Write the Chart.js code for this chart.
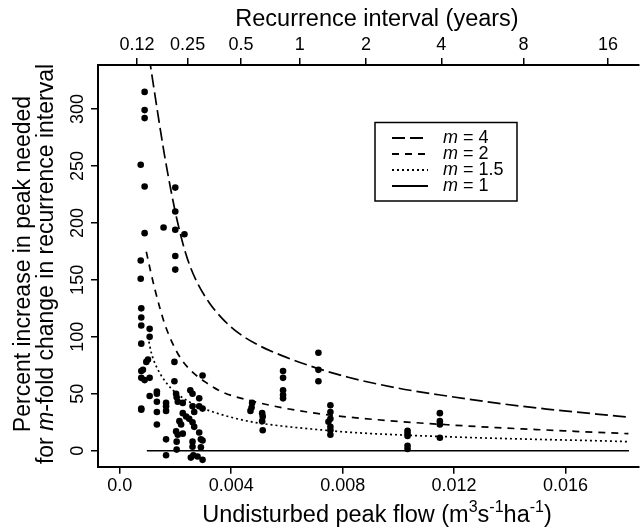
<!DOCTYPE html>
<html>
<head>
<meta charset="utf-8">
<script src="https://cdn.jsdelivr.net/npm/chart.js@4.4.1/dist/chart.umd.min.js"></script>
<style>
  html, body { margin: 0; padding: 0; background: #fff; }
  canvas { display: block; }
</style>
</head>
<body>
<canvas id="peakChart" width="643" height="532"></canvas>
<script>
// observed points: undisturbed peak flow (m3/s/ha) and percent increase
const obsFlow = [
    0.00089, 0.00089, 0.00089, 0.00075, 0.00089, 0.00199, 0.00199, 0.00157, 0.00199, 0.00232, 0.00089,
    0.00075, 0.00199, 0.00199, 0.00075, 0.00077, 0.00077, 0.00077, 0.00107, 0.00107, 0.00077,
    0.00101, 0.00095, 0.00083, 0.00077, 0.00089, 0.00107, 0.00077, 0.00196, 0.00297, 0.00196,
    0.00202, 0.00204, 0.00208, 0.00253, 0.00261, 0.00285, 0.00133, 0.00133, 0.00133, 0.00107,
    0.00077, 0.00077, 0.00133, 0.00133, 0.00166, 0.00166, 0.00166, 0.00226, 0.00226, 0.00238,
    0.00214, 0.00220, 0.00261, 0.00267, 0.00285, 0.00297, 0.00249, 0.00261, 0.00267, 0.00285,
    0.00202, 0.00208, 0.00226, 0.00475, 0.00473, 0.00469, 0.00511, 0.00513, 0.00511, 0.00513,
    0.00166, 0.00291, 0.00204, 0.00261, 0.00297, 0.00204, 0.00261, 0.00291, 0.00166, 0.00264,
    0.00279, 0.00255, 0.00297,
    0.00713, 0.00713, 0.00713, 0.00586, 0.00586, 0.00586, 0.00586, 0.00586,
    0.00756, 0.00756, 0.00756, 0.00749, 0.00756, 0.00756, 0.00756,
    0.01033, 0.01033, 0.01033, 0.01033, 0.01033, 0.01149, 0.01149, 0.01149, 0.01149
];
const obsPct = [
    315, 299, 292, 251, 232, 231, 210, 196, 194, 190, 191,
    167, 171, 159, 151, 125, 117, 110, 107, 100, 94,
    80, 78, 71, 64, 62, 64, 70, 78, 66, 61,
    50, 47, 43, 53, 50, 46, 52, 50, 43, 48,
    37, 36, 34, 23, 42, 39, 35, 42, 33, 30,
    26, 23, 39, 34, 39, 37, 28, 25, 21, 16,
    17, 14, 15, 42, 38, 35, 33, 30, 26, 18,
    10, 10, 8, 8, 9, 1, 3.5, 3, -4, -4,
    -5, -6, -8,
    86, 71, 61, 70, 64, 53, 49, 46,
    40, 34, 28, 25.5, 21, 18, 14,
    17.6, 15, 13, 4.4, 1.5, 33, 26, 23, 11.4
];

// curves
const m4Flow = [0.00105, 0.00137, 0.00160, 0.00184, 0.00205, 0.00238, 0.00273, 0.00321, 0.00368, 0.00428, 0.00499, 0.00582, 0.00701, 0.00820, 0.00998, 0.01176, 0.01354, 0.01532, 0.01711, 0.01826];
const m4Pct  = [346, 295, 260, 228, 203, 172, 150, 130, 116, 103, 92.5, 83.5, 73, 64.5, 55, 48, 41.8, 36.6, 32.2, 29.5];
const m2Flow = [0.00095, 0.00110, 0.00125, 0.00143, 0.00160, 0.00178, 0.00202, 0.00226, 0.00261, 0.00309, 0.00368, 0.00463, 0.00582, 0.00701, 0.00820, 0.00998, 0.01176, 0.01354, 0.01532, 0.01711, 0.01826];
const m2Pct  = [174.7, 158, 142.5, 126, 112, 100.5, 88, 78.5, 69, 60, 51.5, 44.3, 37.8, 33, 29.6, 25.8, 22.8, 20.3, 18.2, 16.2, 15];
const m15Flow = [0.00101, 0.00113, 0.00131, 0.00154, 0.00190, 0.00238, 0.00285, 0.00333, 0.00392, 0.00463, 0.00582, 0.00701, 0.00820, 0.00998, 0.01176, 0.01354, 0.01532, 0.01711, 0.01826];
const m15Pct  = [100.1, 86, 74, 64, 53.3, 44.5, 38.6, 34.2, 29.9, 25.8, 21.7, 18.8, 16.3, 14.0, 12.3, 10.9, 9.8, 8.8, 8.0];
const m1Flow = [0.00097, 0.01828];
const m1Pct  = [0, 0];

// axes
const xTicks = [0, 0.004, 0.008, 0.012, 0.016];
const xTickLabels = ['0.0', '0.004', '0.008', '0.012', '0.016'];
const yTicks = [0, 50, 100, 150, 200, 250, 300];
const topTickFlow = [0.000617, 0.002434, 0.004348, 0.006458, 0.008838, 0.011543, 0.01449, 0.01753];
const topTickLabels = ['0.12', '0.25', '0.5', '1', '2', '4', '8', '16'];

const legendLabels = ['4', '2', '1.5', '1'];

const FONT = '"Liberation Sans", Arial, Helvetica, sans-serif';
const TICK_SIZE = 18;
const TITLE_SIZE = 23.5;
const YTITLE_SIZE = 23;

function toPoints(xs, ys) {
    return xs.map((x, i) => ({ x: x, y: ys[i] }));
}

function axisStyle(extra) {
    return Object.assign({
        type: 'linear',
        grid: { display: true, drawOnChartArea: false, drawTicks: true, tickLength: 7, color: '#000', lineWidth: 1.5 },
        border: { display: true, color: '#000', width: 2 }
    }, extra);
}

function drawRuns(c, runs, cx, cy) {
    let total = 0;
    runs.forEach(r => {
        c.font = (r.italic ? 'italic ' : '') + r.size + 'px ' + FONT;
        r.w = c.measureText(r.t).width;
        total += r.w;
    });
    let x = cx - total / 2;
    c.textAlign = 'left';
    runs.forEach(r => {
        c.font = (r.italic ? 'italic ' : '') + r.size + 'px ' + FONT;
        c.fillText(r.t, x, cy - (r.raise || 0));
        x += r.w;
    });
}

const textPlugin = {
    id: 'figureText',
    afterDraw(chart) {
        const c = chart.ctx;
        c.save();
        c.fillStyle = '#000';
        c.textBaseline = 'middle';

        // top axis title
        drawRuns(c, [{ t: 'Recurrence interval (years)', size: TITLE_SIZE }], 377, 20);

        // bottom axis title
        const sup = 16;
        drawRuns(c, [
            { t: 'Undisturbed peak flow (m', size: TITLE_SIZE },
            { t: '3', size: sup, raise: 8 },
            { t: 's', size: TITLE_SIZE },
            { t: '-1', size: sup, raise: 8 },
            { t: 'ha', size: TITLE_SIZE },
            { t: '-1', size: sup, raise: 8 },
            { t: ')', size: TITLE_SIZE }
        ], 377, 516);

        // y title, two lines
        c.save();
        c.translate(24, 264);
        c.rotate(-Math.PI / 2);
        drawRuns(c, [{ t: 'Percent increase in peak needed', size: YTITLE_SIZE }], 0, 0);
        c.restore();
        c.save();
        c.translate(47, 264);
        c.rotate(-Math.PI / 2);
        drawRuns(c, [
            { t: 'for ', size: YTITLE_SIZE },
            { t: 'm', size: YTITLE_SIZE, italic: true },
            { t: '-fold change in recurrence interval', size: YTITLE_SIZE }
        ], 0, 0);
        c.restore();

        // legend box
        c.strokeStyle = '#000';
        c.lineWidth = 1.5;
        c.strokeRect(375, 122.5, 142, 78.5);
        const dashes = [[13, 5], [7, 6], [2, 3], []];
        legendLabels.forEach((lab, i) => {
            const y = 138 + i * 16;
            c.setLineDash(dashes[i]);
            c.lineWidth = 1.8;
            c.beginPath();
            c.moveTo(392, y);
            c.lineTo(428, y);
            c.stroke();
            c.setLineDash([]);
            c.font = 'italic 18px ' + FONT;
            c.textAlign = 'left';
            c.fillText('m', 443, y);
            const mw = c.measureText('m').width;
            c.font = '18px ' + FONT;
            c.fillText(' = ' + lab, 443 + mw, y);
        });
        c.restore();
    }
};

const curveStyle = {
    type: 'line',
    borderColor: '#000',
    borderWidth: 1.7,
    pointRadius: 0,
    fill: false,
    cubicInterpolationMode: 'monotone'
};

const tickFont = { family: FONT, size: TICK_SIZE };

const ctx = document.getElementById('peakChart');
new Chart(ctx, {
    type: 'scatter',
    data: {
        datasets: [
            Object.assign({}, curveStyle, { label: 'm = 4', data: toPoints(m4Flow, m4Pct), borderDash: [13, 5] }),
            Object.assign({}, curveStyle, { label: 'm = 2', data: toPoints(m2Flow, m2Pct), borderDash: [7, 6] }),
            Object.assign({}, curveStyle, { label: 'm = 1.5', data: toPoints(m15Flow, m15Pct), borderDash: [2, 3] }),
            Object.assign({}, curveStyle, { label: 'm = 1', data: toPoints(m1Flow, m1Pct) }),
            {
                label: 'observed',
                data: toPoints(obsFlow, obsPct),
                pointRadius: 3.3,
                pointBackgroundColor: '#000',
                pointBorderWidth: 0,
                showLine: false
            }
        ]
    },
    options: {
        responsive: false,
        animation: false,
        layout: { padding: 0 },
        plugins: { legend: { display: false }, tooltip: { enabled: false } },
        scales: {
            x: axisStyle({
                position: 'bottom',
                min: -0.000784,
                max: 0.01864,
                afterBuildTicks: s => { s.ticks = xTicks.map(v => ({ value: v })); },
                afterFit: s => { s.height = 65.3; },
                ticks: { color: '#000', font: tickFont, padding: 2, minRotation: 0, maxRotation: 0, autoSkip: false,
                    callback: (v, i) => xTickLabels[i] }
            }),
            x2: axisStyle({
                position: 'top',
                min: -0.000784,
                max: 0.01864,
                afterBuildTicks: s => { s.ticks = topTickFlow.map(v => ({ value: v })); },
                afterFit: s => { s.height = 65; },
                ticks: { color: '#000', font: tickFont, padding: 2, minRotation: 0, maxRotation: 0, autoSkip: false,
                    callback: (v, i) => topTickLabels[i] }
            }),
            y: axisStyle({
                position: 'left',
                min: -14,
                max: 338.6,
                afterBuildTicks: s => { s.ticks = yTicks.map(v => ({ value: v })); },
                afterFit: s => { s.width = 98; },
                ticks: { color: '#000', font: tickFont, padding: -2, minRotation: 90, maxRotation: 90,
                    crossAlign: 'center', autoSkip: false, callback: v => String(v) }
            })
        }
    },
    plugins: [textPlugin]
});
</script>
</body>
</html>
